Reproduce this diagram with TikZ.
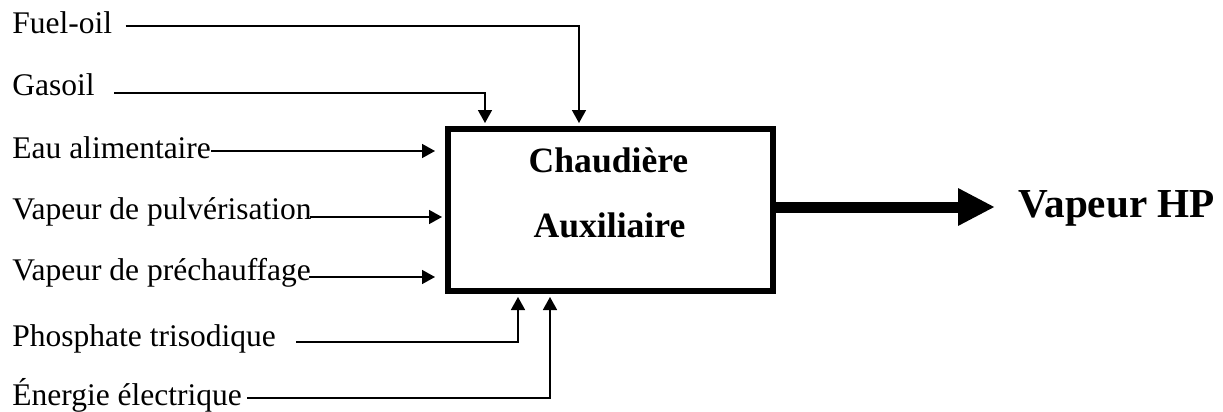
\documentclass[tikz,border=0pt]{standalone}
\usepackage{fontspec}
\setmainfont{Liberation Serif}
\usetikzlibrary{arrows.meta,positioning,calc}
\tikzset{
    %Define standard arrow tip
    >={Triangle[length=6.5pt,width=7pt]},
    %Define style for the boiler box
    boite/.style={
           rectangle,
           draw=black, line width=3pt,
           minimum width=162.5pt,
           minimum height=81pt},
    % Define style for the box title
    titre/.style={
           anchor=base,
           inner sep=0pt,
           font=\fontsize{17.8}{20}\selectfont\bfseries},
    % Node for input labels
    etiq/.style={
           anchor=base west,
           inner sep=0pt,
           font=\fontsize{15.75}{18}\selectfont},
    % Define arrow style
    fleche/.style={
           ->,
           line width=0.8pt,
           shorten >=1.5pt},
    % Thick output arrow
    sortie/.style={
           -{Triangle[length=18.5pt,width=17.5pt]},
           line width=5.5pt,
           shorten >=11.5pt}
}

\begin{document}
\begin{tikzpicture}[x=0.5pt,y=-0.5pt]
    \useasboundingbox (0,0) rectangle (1223,412);
    % boiler
    \node[boite] (boite) at (610.5,210) {};
    \node[titre] (chaud) at (608.5,172) {Chaudière};
    \node[titre] (aux) at (609.5,237) {Auxiliaire};
    \node[anchor=base west, inner sep=0pt,
          font=\fontsize{20.6}{24}\selectfont\bfseries] (hp) at (1018,217) {Vapeur HP};
    % inputs
    \node[etiq] (fuel) at (12,33) {Fuel-oil};
    \node[etiq] (gas) at (12,95) {Gasoil};
    \node[etiq] (eau) at (12,158) {Eau alimentaire};
    \node[etiq] (pulv) at (12,219) {Vapeur de pulvérisation};
    \node[etiq] (prech) at (12,280) {Vapeur de préchauffage};
    \node[etiq] (phos) at (12,346) {Phosphate trisodique};
    \node[etiq] (energ) at (12,405) {Énergie électrique};
    % start of the lines
    \coordinate (fuelS) at ($(fuel.base east)+(13,-7)$);
    \coordinate (gasS) at ($(gas.base east)+(19,-2)$);
    \coordinate (eauS) at ($(eau.base east)+(0,-7)$);
    \coordinate (pulvS) at ($(pulv.base east)+(-2,-2)$);
    \coordinate (prechS) at ($(prech.base east)+(-2,-3)$);
    \coordinate (phosS) at ($(phos.base east)+(20,-4)$);
    \coordinate (energS) at ($(energ.base east)+(5,-7)$);
    \coordinate (outS) at ($(boite.east)+(0,-3)$);
    % connectors
    \draw[fleche] (fuelS) -| ([xshift=-15.75pt]boite.north);
    \draw[fleche] (gasS) -| ([xshift=-62.75pt]boite.north);
    \draw[fleche, shorten >=5pt] (eauS) -- (eauS -| boite.west);
    \draw[fleche] (pulvS) -- (pulvS -| boite.west);
    \draw[fleche, shorten >=5pt] (prechS) -- (prechS -| boite.west);
    \draw[fleche] (phosS) -| ([xshift=-46.25pt]boite.south);
    \draw[fleche] (energS) -| ([xshift=-30.25pt]boite.south);
    \draw[sortie] (outS) -- (outS -| hp.west);
\end{tikzpicture}
\end{document}
